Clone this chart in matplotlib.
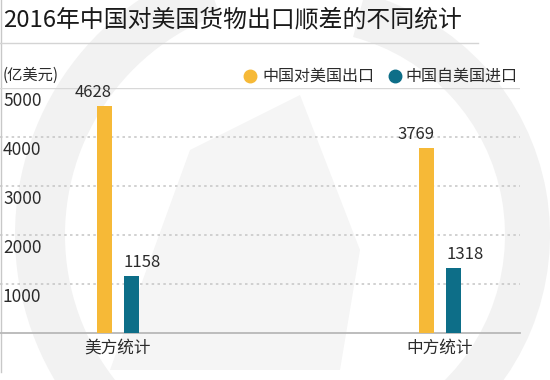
import matplotlib.pyplot as plt
from matplotlib.lines import Line2D
from matplotlib.patches import Wedge, Polygon
import matplotlib.transforms as mtransforms

plt.rcParams['font.family'] = ['Noto Sans CJK SC', 'DejaVu Sans']

# 数据
categories = ['美方统计', '中方统计']
export_vals = [4628, 3769]   # 中国对美国出口
import_vals = [1158, 1318]   # 中国自美国进口
series_names = ['中国对美国出口', '中国自美国进口']
yticks = [1000, 2000, 3000, 4000, 5000]

c_yellow = '#F6B937'
c_teal = '#0D6E88'
c_text = '#2b2b2b'

W, H = 550, 380
fig = plt.figure(figsize=(W / 100, H / 100), dpi=100)
fig.patch.set_facecolor('white')

def fx(px):
    return px / W

def fy(py):
    return 1 - py / H

# 背景水印 (淡灰色弧形)
bg = fig.add_axes([0, 0, 1, 1], zorder=-5)
bg.set_xlim(0, W)
bg.set_ylim(H, 0)
bg.axis('off')
bg.add_patch(Wedge((300, 235), 285, 95, 250, width=50, color='#f2f2f2', lw=0))
bg.add_patch(Wedge((300, 235), 250, -75, 55, width=45, color='#f2f2f2', lw=0))
bg.add_patch(Polygon([(190, 150), (300, 95), (360, 250), (340, 370), (110, 370)],
                     closed=True, color='#f5f5f5', lw=0))
bg.plot([0.6, 0.6], [0, 372], color='#c8c8c8', lw=1)

# 标题
fig.text(fx(3), fy(20), '2016年中国对美国货物出口顺差的不同统计',
         fontsize=17.2, fontweight='medium', color='#1a1a1a', va='center', ha='left')
fig.add_artist(Line2D([0, fx(478)], [fy(43), fy(43)], color='#d4d4d4', lw=1))

# 单位
fig.text(fx(3), fy(75), '(亿美元)', fontsize=11, color=c_text, va='center', ha='left')

# 图例
leg = [(250, 262, c_yellow, series_names[0]), (395, 405, c_teal, series_names[1])]
for mx, tx, col, name in leg:
    fig.add_artist(Line2D([fx(mx)], [fy(76)], marker='o', markersize=9,
                          color=col, lw=0))
    fig.text(fx(tx), fy(76), name, fontsize=11.5, color=c_text,
             va='center', ha='left')

# 主图
ax = fig.add_axes([0, fy(333), fx(520), (333 - 88) / H])
ax.patch.set_alpha(0)
x = list(range(len(categories)))
bw = 0.047
off = 0.042
ax.bar([i - off for i in x], export_vals, width=bw, color=c_yellow, zorder=3)
ax.bar([i + off for i in x], import_vals, width=bw, color=c_teal, zorder=3)

ax.set_xlim(-0.366, 1.248)
ax.set_ylim(0, 5000)

for i in x:
    ax.annotate(str(export_vals[i]), (i - off + bw / 2, export_vals[i]),
                xytext=(0, 4), textcoords='offset points', ha='right', va='bottom',
                fontsize=12, color=c_text)
    ax.annotate(str(import_vals[i]), (i + off - bw / 2, import_vals[i]),
                xytext=(0, 4), textcoords='offset points', ha='left', va='bottom',
                fontsize=12, color=c_text)

# 网格线
for v in yticks[:-1]:
    ax.axhline(v, color='#c9c9c9', lw=1.2, ls=(0, (1.5, 2)), zorder=1)
ax.axhline(5000, color='#d8d8d8', lw=1, zorder=1)

trans = mtransforms.blended_transform_factory(ax.transAxes, ax.transData)
for v in yticks:
    ax.annotate(str(v), (fx(3) / fx(520), v), xycoords=trans,
                xytext=(0, -3), textcoords='offset points', ha='left', va='top',
                fontsize=12.5, color=c_text)

ax.set_yticks([])
ax.set_xticks(x)
ax.set_xticklabels(categories, fontsize=12, color=c_text)
ax.tick_params(axis='x', length=0, pad=5)
for s in ['top', 'left', 'right']:
    ax.spines[s].set_visible(False)
ax.spines['bottom'].set_color('#b8b8b8')
ax.spines['bottom'].set_linewidth(1.3)

fig.savefig('out.png', dpi=100)
